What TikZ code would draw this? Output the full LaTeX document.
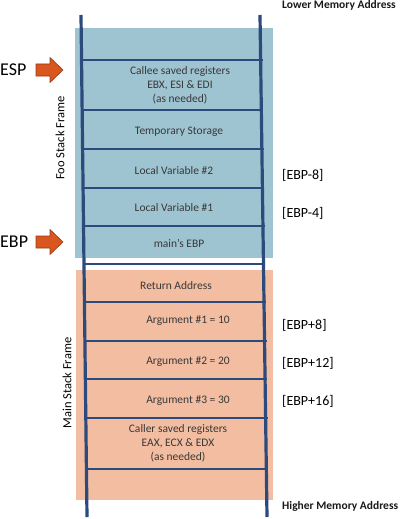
\documentclass[tikz,border=0pt]{standalone}
\usepackage{fontspec}
\setmainfont{Carlito}
\usetikzlibrary{calc}
\definecolor{fooblue}{HTML}{9FC4D1}
\definecolor{mainsalmon}{HTML}{F3BDA1}
\definecolor{railblue}{HTML}{2C4A7C}
\definecolor{ptrorange}{HTML}{D9561E}
\tikzset{
  rail/.style={railblue, line width=3.2pt},
  rung/.style={railblue, line width=2.8pt},
  cell/.style={font=\fontsize{11.5}{14}\selectfont, text=black!78, align=center, inner sep=0pt},
  offset/.style={font=\fontsize{14}{16}\selectfont, anchor=west, inner sep=0pt},
  memaddr/.style={font=\fontsize{11.5}{13}\selectfont\bfseries, anchor=west, inner sep=0pt, text=black!90},
  reglabel/.style={font=\fontsize{18}{20}\selectfont, anchor=west, inner sep=0pt},
  framelabel/.style={font=\fontsize{12.5}{14}\selectfont, rotate=90, inner sep=0pt},
  ptr/.style={fill=ptrorange, draw=ptrorange!70!black, line width=0.6pt}
}

\begin{document}
\begin{tikzpicture}[x=1pt, y=-1pt]
\useasboundingbox (0,0) rectangle (400,519);

% stack frames
\fill[fooblue] (75,28) rectangle (273,258);
\fill[mainsalmon] (76,270) rectangle (273,500);

% ladder
\coordinate (topL) at (81,15);
\coordinate (botL) at (87,517);
\coordinate (topR) at (260,15);
\coordinate (botR) at (267,517);
\draw[rail] (topL) -- (botL);
\draw[rail] (topR) -- (botR);
\foreach \y in {60,110,149,188,226,264,302,341,379,418,469}
{   \draw[rung] ($(topL)!{(\y-15)/502}!(botL)$) -- ($(topR)!{(\y-15)/502}!(botR)+(2,0)$);
}

% cells
\node[cell] (callee) at (180,85) {Callee saved registers\\EBX, ESI \& EDI\\(as needed)};
\node[cell] (temp) at (179,132) {Temporary Storage};
\node[cell] (local2) at (174,171) {Local Variable \#2};
\node[cell] (local1) at (174,208) {Local Variable \#1};
\node[cell] (oldebp) at (179,243) {main's EBP};
\node[cell] (retaddr) at (176,286) {Return Address};
\node[cell] (arg1) at (188,321) {Argument \#1 = 10};
\node[cell] (arg2) at (188,362) {Argument \#2 = 20};
\node[cell] (arg3) at (188,401) {Argument \#3 = 30};
\node[cell] (caller) at (178,443) {Caller saved registers\\EAX, ECX \& EDX\\(as needed)};

% offsets from EBP
\node[offset] (off2) at (282,175) {[EBP-8]};
\node[offset] (off1) at (282,213) {[EBP-4]};
\node[offset] (offa1) at (282,325) {[EBP+8]};
\node[offset] (offa2) at (282,363) {[EBP+12]};
\node[offset] (offa3) at (282,401) {[EBP+16]};

% memory direction
\node[memaddr] (lower) at (282,5) {Lower Memory Address};
\node[memaddr] (higher) at (282,506) {Higher Memory Address};

% frame names
\node[framelabel] (fooframe) at (60,138) {Foo Stack Frame};
\node[framelabel] (mainframe) at (67,383) {Main Stack Frame};

% registers
\node[reglabel] (esp) at (0,70) {ESP};
\node[reglabel] (ebp) at (0,242) {EBP};
\foreach \y in {70,242}
{   \draw[ptr] (36,\y-6) -- (50,\y-6) -- (50,\y-12.5) -- (63,\y) -- (50,\y+12.5) -- (50,\y+6) -- (36,\y+6) -- cycle;
}
\end{tikzpicture}
\end{document}
